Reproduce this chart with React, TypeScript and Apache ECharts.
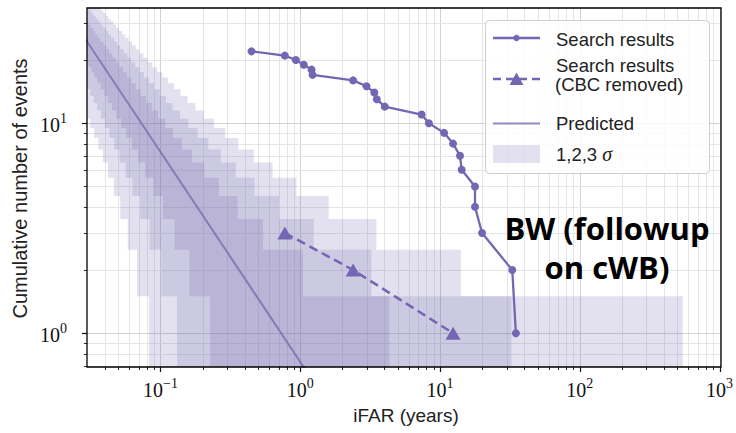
import React, { useEffect, useRef } from 'react';
import * as echarts from 'echarts';

// ---- axis ranges ----
const X_MIN = 0.0298;
const X_MAX = 1000;
const Y_MIN = 0.69;
const Y_MAX = 35.4;

// ---- tick positions ----
const xMajorTicks = [0.1, 1, 10, 100, 1000];
const xMinorTicks = [0.04, 0.05, 0.06, 0.07, 0.08, 0.09, 0.2, 0.3, 0.4, 0.5, 0.6, 0.7, 0.8, 0.9,
  2, 3, 4, 5, 6, 7, 8, 9, 20, 30, 40, 50, 60, 70, 80, 90, 200, 300, 400, 500, 600, 700, 800, 900];
const yMajorTicks = [1, 10];
const yMinorTicks = [0.7, 0.8, 0.9, 2, 3, 4, 5, 6, 7, 8, 9, 20, 30];

// ---- data ----
const searchIFAR = [0.448, 0.776, 0.93, 1.06, 1.205, 1.225, 2.39, 2.98, 3.39, 3.53, 4.03, 7.39, 8.33,
  10.7, 12.4, 13.9, 14.3, 17.8, 17.8, 20.0, 32.9, 34.9];
const searchCount = [22, 21, 20, 19, 18, 17, 16, 15, 14, 13, 12, 11, 10, 9, 8, 7, 6, 5, 4, 3, 2, 1];

const cbcIFAR = [0.776, 2.39, 12.4];
const cbcCount = [3, 2, 1];

const predictedIFAR = [0.02, 2];
const predictedCount = [36.5, 0.365];

// sigma bands: for each count N, the iFAR range (low/high) of the rectangle spanning N-0.5..N+0.5
const bandCounts = [1, 2, 3, 4, 5, 6, 7, 8, 9, 10, 11, 12, 13, 14, 15, 16, 17, 18, 19, 20,
  21, 22, 23, 24, 25, 26, 27, 28, 29, 30, 31, 32, 33, 34, 35];
const sigma1Low = [0.2267, 0.1610, 0.1261, 0.1041, 0.08896, 0.07779, 0.06922, 0.06240, 0.05685, 0.05224,
  0.04834, 0.04500, 0.04211, 0.03958, 0.03734, 0.03535, 0.03356, 0.03195, 0.03049, 0.02917, 0.02795,
  0.02684, 0.02581, 0.02486, 0.02398, 0.02316, 0.02239, 0.02168, 0.02100, 0.02037, 0.01978, 0.01922,
  0.01869, 0.01819, 0.01772];
const sigma1High = [4.344, 1.046, 0.5428, 0.3563, 0.2618, 0.2055, 0.1684, 0.1423, 0.1229, 0.1080,
  0.09627, 0.08674, 0.07887, 0.07228, 0.06667, 0.06185, 0.05766, 0.05398, 0.05074, 0.04785, 0.04527,
  0.04294, 0.04084, 0.03893, 0.03718, 0.03558, 0.03411, 0.03276, 0.03150, 0.03034, 0.02925, 0.02825,
  0.02730, 0.02642, 0.02559];
const sigma2Low = [0.1313, 0.1014, 0.08370, 0.07173, 0.06302, 0.05635, 0.05106, 0.04674, 0.04315, 0.04010,
  0.03748, 0.03520, 0.03321, 0.03143, 0.02985, 0.02843, 0.02715, 0.02598, 0.02491, 0.02393, 0.02303,
  0.02219, 0.02141, 0.02069, 0.02003, 0.01940, 0.01881, 0.01826, 0.01774, 0.01725, 0.01678, 0.01634,
  0.01592, 0.01552, 0.01514];
const sigma2High = [32.45, 3.232, 1.249, 0.7043, 0.4708, 0.3461, 0.2702, 0.2198, 0.1842, 0.1579,
  0.1378, 0.1219, 0.1091, 0.09864, 0.08988, 0.08246, 0.07612, 0.07063, 0.06585, 0.06164, 0.05790,
  0.05458, 0.05160, 0.04891, 0.04648, 0.04426, 0.04225, 0.04039, 0.03869, 0.03711, 0.03566, 0.03431,
  0.03306, 0.03189, 0.03079];
const sigma3Low = [0.08270, 0.06795, 0.05837, 0.05149, 0.04626, 0.04211, 0.03873, 0.03591, 0.03351, 0.03145,
  0.02964, 0.02806, 0.02664, 0.02538, 0.02424, 0.02321, 0.02226, 0.02139, 0.02058, 0.01984, 0.01915,
  0.01851, 0.01791, 0.01735, 0.01682, 0.01633, 0.01586, 0.01543, 0.01501, 0.01462, 0.01425, 0.01390,
  0.01356, 0.01324, 0.01294];
const sigma3High = [546.2, 14.13, 3.506, 1.597, 0.9392, 0.6335, 0.4646, 0.3603, 0.2907, 0.2416,
  0.2054, 0.1778, 0.1562, 0.1389, 0.1247, 0.1129, 0.1031, 0.09462, 0.08737, 0.08108, 0.07556,
  0.07070, 0.06638, 0.06253, 0.05907, 0.05594, 0.05312, 0.05054, 0.04818, 0.04602, 0.04404, 0.04221,
  0.04052, 0.03895, 0.03749];

// ---- style ----
const PURPLE = '#7466b2';
const BAND_FILL = 'rgba(117,107,177,0.2)';
const PRED_COLOR = 'rgba(117,107,177,0.78)';
const GRID = { left: 87, top: 8, right: 15, bottom: 66 };
const W = 736;
const H = 433;
const SANS = 'Liberation Sans';
const SERIF = 'Liberation Serif';

const powLabel = (v: number) => {
  const e = Math.round(Math.log10(v));
  if (Math.abs(v / Math.pow(10, e) - 1) > 1e-6) return '';
  const ex = e < 0 ? '\u2212' + String(-e) : String(e);
  return `{b|10}{s|${ex}}`;
};
const labelRich = {
  b: { fontFamily: SERIF, fontSize: 20, color: '#111', lineHeight: 24, verticalAlign: 'bottom' },
  s: { fontFamily: SERIF, fontSize: 14, color: '#111', lineHeight: 14, verticalAlign: 'top' },
};

export default function App() {
  const ref = useRef<HTMLDivElement>(null);
  useEffect(() => {
    if (!ref.current) return;
    const chart = echarts.init(ref.current, null, { renderer: 'svg' });

    const bands = [
      { low: sigma3Low, high: sigma3High },
      { low: sigma2Low, high: sigma2High },
      { low: sigma1Low, high: sigma1High },
    ];

    const xTickData = [...xMajorTicks.map((v) => [v, 2]), ...xMinorTicks.map((v) => [v, 1])];
    const yTickData = [...yMajorTicks.map((v) => [1, v, 2]), ...yMinorTicks.map((v) => [1, v, 1])];

    const plotW = W - GRID.left - GRID.right;
    const plotH = H - GRID.top - GRID.bottom;
    const legX = 485.5;
    const legY = 20.5;
    const hx1 = 493;
    const hx2 = 540;
    const hxm = (hx1 + hx2) / 2;
    const tx = 556;
    const legFont = `18.5px "${SANS}"`;

    const option: any = {
      animation: false,
      backgroundColor: '#fff',
      grid: { ...GRID, containLabel: false, show: true, backgroundColor: '#fff', borderWidth: 0 },
      xAxis: {
        type: 'log',
        logBase: 10,
        min: X_MIN,
        max: X_MAX,
        axisLine: { show: false },
        axisTick: { show: false },
        splitLine: { show: false },
        axisLabel: { formatter: powLabel, rich: labelRich, margin: 9, showMinLabel: false },
      },
      yAxis: {
        type: 'log',
        logBase: 10,
        min: Y_MIN,
        max: Y_MAX,
        axisLine: { show: false },
        axisTick: { show: false },
        splitLine: { show: false },
        axisLabel: { formatter: powLabel, rich: labelRich, margin: 20, showMinLabel: false, showMaxLabel: false },
      },
      series: [
        {
          type: 'custom',
          name: 'xgrid',
          silent: true,
          z: 1,
          data: xTickData,
          encode: { x: 0, y: 1 },
          renderItem: (params: any, api: any) => {
            const v = api.value(0);
            const major = api.value(1) === 2;
            const cs = params.coordSys;
            const p = api.coord([v, Y_MIN]);
            const x = Math.round(p[0]) + 0.5;
            const yb = cs.y + cs.height;
            return {
              type: 'group',
              children: [
                { type: 'line', shape: { x1: x, y1: cs.y, x2: x, y2: yb }, style: { stroke: major ? '#d2d2d2' : '#e5e5e5', lineWidth: 1 } },
                { type: 'line', shape: { x1: x, y1: yb, x2: x, y2: yb + (major ? 5 : 3) }, style: { stroke: '#111', lineWidth: major ? 1.2 : 0.9 } },
              ],
            };
          },
        },
        {
          type: 'custom',
          name: 'ygrid',
          silent: true,
          z: 1,
          data: yTickData,
          encode: { x: 0, y: 1 },
          renderItem: (params: any, api: any) => {
            const v = api.value(1);
            const major = api.value(2) === 2;
            const cs = params.coordSys;
            const p = api.coord([X_MIN, v]);
            const y = Math.round(p[1]) + 0.5;
            return {
              type: 'group',
              children: [
                { type: 'line', shape: { x1: cs.x, y1: y, x2: cs.x + cs.width, y2: y }, style: { stroke: major ? '#d2d2d2' : '#e5e5e5', lineWidth: 1 } },
                { type: 'line', shape: { x1: cs.x - (major ? 5 : 3), y1: y, x2: cs.x, y2: y }, style: { stroke: '#111', lineWidth: major ? 1.2 : 0.9 } },
              ],
            };
          },
        },
        {
          type: 'custom',
          name: 'bands',
          silent: true,
          z: 2,
          data: bands.map(() => [1, 1]),
          encode: { x: 0, y: 1 },
          renderItem: (params: any, api: any) => {
            const b = bands[params.dataIndex];
            const cs = params.coordSys;
            const pt = (xv: number, yv: number) => {
              const p = api.coord([xv, yv]);
              return [
                Math.min(Math.max(p[0], cs.x), cs.x + cs.width),
                Math.min(Math.max(p[1], cs.y), cs.y + cs.height),
              ];
            };
            const pts: number[][] = [];
            for (let i = 0; i < bandCounts.length; i++) {
              const n = bandCounts[i];
              pts.push(pt(b.high[i], n - 0.5));
              pts.push(pt(b.high[i], n + 0.5));
            }
            for (let i = bandCounts.length - 1; i >= 0; i--) {
              const n = bandCounts[i];
              pts.push(pt(b.low[i], n + 0.5));
              pts.push(pt(b.low[i], n - 0.5));
            }
            return { type: 'polygon', shape: { points: pts }, style: { fill: BAND_FILL } };
          },
        },
        {
          type: 'line',
          name: 'Predicted',
          z: 3,
          data: predictedIFAR.map((x, i) => [x, predictedCount[i]]),
          showSymbol: false,
          symbol: 'none',
          lineStyle: { color: PRED_COLOR, width: 2 },
          clip: true,
          silent: true,
        },
        {
          type: 'line',
          name: 'Search results (CBC removed)',
          z: 4,
          data: cbcIFAR.map((x, i) => [x, cbcCount[i]]),
          symbol: 'triangle',
          symbolSize: [15, 13],
          itemStyle: { color: PURPLE },
          lineStyle: { color: PURPLE, width: 2.5, type: [9, 5] },
          silent: true,
        },
        {
          type: 'line',
          name: 'Search results',
          z: 5,
          data: searchIFAR.map((x, i) => [x, searchCount[i]]),
          symbol: 'circle',
          symbolSize: 8,
          itemStyle: { color: PURPLE },
          lineStyle: { color: PURPLE, width: 2.3 },
          silent: true,
        },
      ],
      graphic: [
        // frame
        {
          type: 'rect', z: 50, silent: true,
          shape: { x: GRID.left, y: GRID.top, width: plotW, height: plotH },
          style: { fill: 'none', stroke: '#000', lineWidth: 1.3 },
        },
        // legend box
        {
          type: 'rect', z: 60, silent: true,
          shape: { x: legX, y: legY, width: 224, height: 153, r: 4 },
          style: { fill: 'rgba(255,255,255,0.82)', stroke: '#cfcfcf', lineWidth: 1 },
        },
        { type: 'line', z: 61, shape: { x1: hx1, y1: 38, x2: hx2, y2: 38 }, style: { stroke: PURPLE, lineWidth: 2.3 } },
        { type: 'circle', z: 62, shape: { cx: hxm, cy: 38, r: 3.2 }, style: { fill: PURPLE } },
        { type: 'text', z: 62, style: { x: tx, y: 39, text: 'Search results', font: legFont, fill: '#222', verticalAlign: 'middle' } },
        { type: 'line', z: 61, shape: { x1: hx1, y1: 79, x2: hx2, y2: 79 }, style: { stroke: PURPLE, lineWidth: 2.5, lineDash: [8, 5] } },
        { type: 'polygon', z: 62, shape: { points: [[hxm - 7, 85], [hxm + 7, 85], [hxm, 72.5]] }, style: { fill: PURPLE } },
        { type: 'text', z: 62, style: { x: tx, y: 65, text: 'Search results', font: legFont, fill: '#222', verticalAlign: 'middle' } },
        { type: 'text', z: 62, style: { x: tx - 1, y: 84.5, text: '(CBC removed)', font: legFont, fill: '#222', verticalAlign: 'middle' } },
        { type: 'line', z: 61, shape: { x1: hx1, y1: 123.5, x2: hx2, y2: 123.5 }, style: { stroke: PRED_COLOR, lineWidth: 2 } },
        { type: 'text', z: 62, style: { x: tx, y: 123.5, text: 'Predicted', font: legFont, fill: '#222', verticalAlign: 'middle' } },
        { type: 'rect', z: 61, shape: { x: hx1, y: 145, width: hx2 - hx1, height: 18 }, style: { fill: BAND_FILL } },
        {
          type: 'text', z: 62,
          style: {
            x: tx, y: 154, text: '1,2,3 {i|σ}', font: legFont, fill: '#222', verticalAlign: 'middle',
            rich: { i: { fontFamily: SERIF, fontStyle: 'italic', fontSize: 20, fill: '#222' } },
          },
        },
        // annotation
        { type: 'text', z: 70, style: { x: 607, y: 228, text: 'BW (followup', font: `bold 31px "Open Sans"`, fill: '#000', align: 'center', verticalAlign: 'middle' } },
        { type: 'text', z: 70, style: { x: 607, y: 267, text: 'on cWB)', font: `bold 31px "Open Sans"`, fill: '#000', align: 'center', verticalAlign: 'middle' } },
        // axis titles
        { type: 'text', z: 40, style: { x: 406, y: 415, text: 'iFAR (years)', font: `19px "${SANS}"`, fill: '#222', align: 'center', verticalAlign: 'middle' } },
        {
          type: 'text', z: 40, x: 20, y: 188.5, rotation: Math.PI / 2,
          style: { x: 0, y: 0, text: 'Cumulative number of events', font: `20px "${SANS}"`, fill: '#222', align: 'center', verticalAlign: 'middle' },
        },
      ],
    };

    chart.setOption(option);
    return () => chart.dispose();
  }, []);

  return <div ref={ref} style={{ position: 'absolute', left: 0, top: 0, width: W, height: H }} />;
}
